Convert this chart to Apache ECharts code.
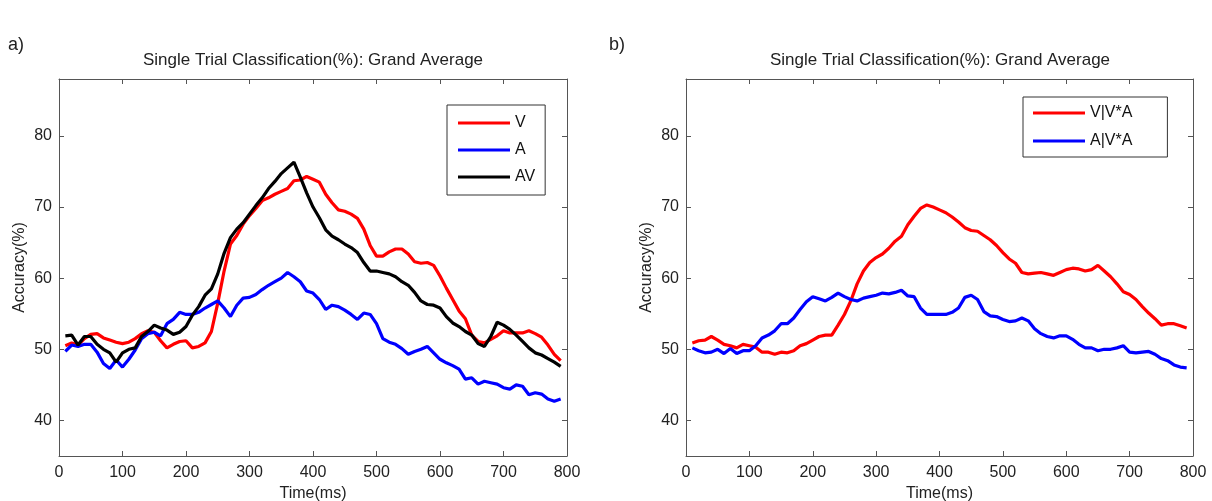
<!DOCTYPE html>
<html>
<head>
<meta charset="utf-8">
<script src="https://cdn.jsdelivr.net/npm/echarts@6/dist/echarts.min.js"></script>
<style>html,body{margin:0;padding:0;background:#fff;}#chart{width:1212px;height:501px;}</style>
</head>
<body>
<div id="chart"></div>
<script>
// Time points (ms)
const timeMs = [10,20,30,40,50,60,70,80,90,100,110,120,130,140,150,160,170,180,190,200,
  210,220,230,240,250,260,270,280,290,300,310,320,330,340,350,360,370,380,390,400,
  410,420,430,440,450,460,470,480,490,500,510,520,530,540,550,560,570,580,590,600,
  610,620,630,640,650,660,670,680,690,700,710,720,730,740,750,760,770,780,790];

// Panel a)
const accV = [50.5,50.9,50.6,51.5,52.1,52.2,51.6,51.3,51.0,50.8,51.0,51.5,52.2,52.6,52.4,51.2,50.2,50.7,51.1,51.2,
  50.2,50.4,50.9,52.5,56.5,61.0,64.8,66.0,67.6,68.8,69.8,70.9,71.3,71.8,72.2,72.6,73.7,73.8,74.3,73.9,
  73.5,71.8,70.6,69.6,69.4,69.0,68.4,66.9,64.6,63.1,63.1,63.7,64.1,64.1,63.4,62.3,62.1,62.2,61.8,60.3,
  58.6,57.0,55.4,54.3,52.0,51.1,50.9,51.4,51.9,52.6,52.3,52.3,52.3,52.6,52.2,51.7,50.6,49.3,48.4];
const accA = [49.7,50.6,50.4,50.7,50.7,49.6,48.0,47.3,48.5,47.5,48.6,49.9,51.5,52.2,52.4,51.9,53.6,54.2,55.2,54.9,
  54.9,55.2,55.8,56.3,56.8,55.8,54.6,56.2,57.2,57.3,57.7,58.4,59.0,59.5,60.0,60.8,60.2,59.5,58.2,57.9,
  57.0,55.6,56.2,56.0,55.5,54.9,54.2,55.1,54.9,53.6,51.5,51.0,50.7,50.1,49.3,49.7,50.0,50.4,49.5,48.6,
  48.1,47.7,47.2,45.8,46.0,45.1,45.5,45.3,45.1,44.6,44.4,45.0,44.8,43.6,43.9,43.7,43.0,42.7,43.0];
const accAV = [51.9,52.0,50.6,51.8,51.8,50.7,50.0,49.5,48.2,49.5,50.0,50.2,51.8,52.5,53.4,53.0,52.7,52.1,52.4,53.2,
  54.8,56.0,57.6,58.5,60.6,63.5,65.7,66.9,67.8,69.0,70.2,71.3,72.6,73.6,74.7,75.5,76.3,74.2,72.0,70.0,
  68.5,66.8,65.9,65.4,64.8,64.3,63.6,62.2,61.0,61.0,60.8,60.6,60.2,59.5,59.0,58.0,56.8,56.3,56.2,55.8,
  54.6,53.7,53.2,52.5,52.0,50.8,50.4,51.8,53.8,53.4,52.8,52.0,51.1,50.2,49.5,49.2,48.7,48.2,47.6];

// Panel b)
const accVgivenVA = [50.9,51.2,51.3,51.8,51.3,50.7,50.5,50.2,50.7,50.5,50.3,49.6,49.6,49.3,49.6,49.5,49.8,50.5,50.8,51.3,
  51.8,52.0,52.0,53.4,54.9,56.8,59.2,61.0,62.2,62.9,63.4,64.2,65.2,65.9,67.5,68.7,69.8,70.3,70.0,69.6,
  69.2,68.6,67.9,67.1,66.7,66.6,66.0,65.4,64.6,63.6,62.7,62.1,60.8,60.6,60.7,60.8,60.6,60.4,60.8,61.2,
  61.4,61.3,61.0,61.2,61.8,61.0,60.2,59.2,58.1,57.7,57.0,56.0,55.1,54.3,53.4,53.6,53.6,53.3,53.0];
const accAgivenVA = [50.2,49.8,49.5,49.6,50.0,49.4,50.1,49.4,49.8,49.8,50.5,51.6,52.0,52.6,53.6,53.6,54.4,55.6,56.7,57.4,
  57.1,56.8,57.3,57.9,57.4,57.0,56.8,57.2,57.4,57.6,57.9,57.8,58.0,58.3,57.5,57.4,55.8,54.9,54.9,54.9,
  54.9,55.2,55.8,57.3,57.6,57.0,55.3,54.7,54.6,54.2,53.9,54.0,54.4,54.0,52.9,52.2,51.8,51.6,51.9,51.9,
  51.4,50.7,50.2,50.2,49.8,50.0,50.0,50.2,50.5,49.6,49.5,49.6,49.7,49.3,48.7,48.4,47.8,47.5,47.4];

const xTicks = [0,100,200,300,400,500,600,700,800];
const yTicks = [40,50,60,70,80];
const panelTitles = ['Single Trial Classification(%): Grand Average','Single Trial Classification(%): Grand Average'];
const panelLetters = ['a)','b)'];

const FONT = "'Liberation Sans', Arial, sans-serif";
const AX = '#555';
function pairs(vals){ return timeMs.map((t,i)=>[t, vals[i]]); }

const grids = [
  {left:59, top:79, width:508, height:377, outerBoundsMode:'none', containLabel:false},
  {left:686, top:79, width:507, height:377, outerBoundsMode:'none', containLabel:false}
];

function xAx(gi, pos){
  const main = pos==='bottom';
  return {
    type:'value', gridIndex:gi, position:pos, min:0, max:800, interval:100,
    axisLine:{show:true, onZero:false, lineStyle:{color:AX, width:1}},
    axisTick:{show:true, inside:true, length:5, lineStyle:{color:AX}},
    axisLabel:{show:main, fontSize:16, color:'#222', fontFamily:FONT, margin:9},
    splitLine:{show:false},
    name: main ? 'Time(ms)' : '', nameLocation:'middle', nameGap:24,
    nameTextStyle:{fontSize:16, color:'#222', fontFamily:FONT}
  };
}
function yAx(gi, pos){
  const main = pos==='left';
  return {
    type:'value', gridIndex:gi, position:pos, min:35, max:88,
    axisLine:{show:true, onZero:false, lineStyle:{color:AX, width:1}},
    axisTick:{show:true, inside:true, length:5, lineStyle:{color:AX}, customValues:yTicks},
    axisLabel:{show:main, fontSize:16, color:'#222', fontFamily:FONT, margin:7, customValues:yTicks},
    splitLine:{show:false},
    name: main ? 'Accuracy(%)' : '', nameLocation:'middle', nameGap:31,
    nameTextStyle:{fontSize:16, color:'#222', fontFamily:FONT}
  };
}

function lineSeries(name, vals, color, xi, yi){
  return {name, type:'line', xAxisIndex:xi, yAxisIndex:yi, data:pairs(vals), showSymbol:false, symbol:'none',
    lineStyle:{color, width:3.2}, itemStyle:{color}, animation:false};
}

const option = {
  animation:false,
  backgroundColor:'#fff',
  grid: grids,
  xAxis:[xAx(0,'bottom'), xAx(0,'top'), xAx(1,'bottom'), xAx(1,'top')],
  yAxis:[yAx(0,'left'), yAx(0,'right'), yAx(1,'left'), yAx(1,'right')],
  legend:[
    {data:['V','A','AV'], orient:'vertical', left:447, top:105, icon:'rect', itemWidth:52, itemHeight:3,
     itemGap:11, padding:[10,10,10,11], borderColor:'#333', borderWidth:1, backgroundColor:'#fff',
     textStyle:{fontSize:16, color:'#111', fontFamily:FONT}, selectedMode:false},
    {data:['V|V*A','A|V*A'], orient:'vertical', left:1023, top:97, icon:'rect', itemWidth:52, itemHeight:3,
     itemGap:12, padding:[8,35,8,10], borderColor:'#333', borderWidth:1, backgroundColor:'#fff',
     textStyle:{fontSize:16, color:'#111', fontFamily:FONT}, selectedMode:false}
  ],
  graphic:[
    {type:'text', x:313, y:60, style:{text:panelTitles[0], font:"17px "+FONT, fill:'#222', textAlign:'center', textVerticalAlign:'middle'}},
    {type:'text', x:940, y:60, style:{text:panelTitles[1], font:"17px "+FONT, fill:'#222', textAlign:'center', textVerticalAlign:'middle'}},
    {type:'text', x:8, y:45, style:{text:panelLetters[0], font:"18px "+FONT, fill:'#222', textAlign:'left', textVerticalAlign:'middle'}},
    {type:'text', x:609, y:45, style:{text:panelLetters[1], font:"18px "+FONT, fill:'#222', textAlign:'left', textVerticalAlign:'middle'}}
  ],
  series:[
    lineSeries('V', accV, '#ff0000', 0, 0),
    lineSeries('A', accA, '#0000ff', 0, 0),
    lineSeries('AV', accAV, '#000000', 0, 0),
    lineSeries('V|V*A', accVgivenVA, '#ff0000', 2, 2),
    lineSeries('A|V*A', accAgivenVA, '#0000ff', 2, 2)
  ]
};
const chart = echarts.init(document.getElementById('chart'), null, {renderer:'canvas'});
chart.setOption(option);
</script>
</body>
</html>
